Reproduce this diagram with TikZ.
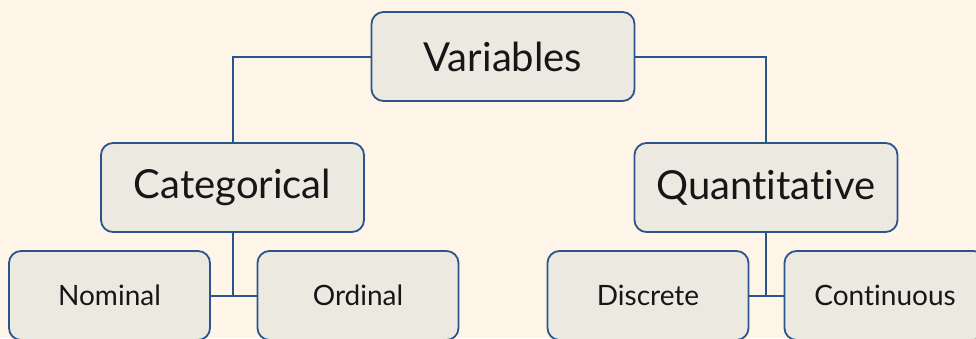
\documentclass[tikz,border=0pt]{standalone}
\usepackage{fontspec}
\setmainfont{Lato}[Ligatures={NoCommon}]
\definecolor{bgcream}{RGB}{254,244,232}
\definecolor{boxfill}{RGB}{236,234,224}
\definecolor{edgeblue}{RGB}{44,84,140}
\definecolor{ink}{RGB}{22,22,22}
\tikzset{
  bigbox/.style={draw=edgeblue, line width=1.8pt, fill=boxfill, rounded corners=12pt,
    minimum width=263pt, minimum height=89pt, inner sep=0pt, text=ink,
    font=\fontsize{40}{46}\selectfont},
  smallbox/.style={draw=edgeblue, line width=1.8pt, fill=boxfill, rounded corners=12pt,
    minimum width=201pt, minimum height=89pt, inner sep=0pt, text=ink,
    font=\fontsize{28}{32}\selectfont},
  link/.style={draw=edgeblue, line width=2pt}
}
\begin{document}
\begin{tikzpicture}[x=1pt,y=1pt]
  \fill[bgcream] (0,0) rectangle (976,-338);
  \clip (0,0) rectangle (976,-338);
  % top level
  \node[bigbox] (var) at (503,-56.5) {Variables};
  % second level
  \node[bigbox] (cat) at (232.5,-187.5) {Categorical};
  \node[bigbox] (quant) at (766,-187.5) {Quantitative};
  % leaves
  \node[smallbox] (nom) at (109.5,-295.5) {Nominal};
  \node[smallbox] (ord) at (358,-295.5) {Ordinal};
  \node[smallbox] (disc) at (648,-295.5) {Discrete};
  \node[smallbox] (cont) at (885,-295.5) {Continuous};
  % connectors
  \draw[link] (var.west) -| (cat.north);
  \draw[link] (var.east) -| (quant.north);
  \coordinate (jc) at (cat.south |- nom.east);
  \coordinate (jq) at (quant.south |- disc.east);
  \draw[link] (cat.south) -- (jc);
  \draw[link] (nom.east) -- (ord.west);
  \draw[link] (quant.south) -- (jq);
  \draw[link] (disc.east) -- (cont.west);
\end{tikzpicture}
\end{document}
